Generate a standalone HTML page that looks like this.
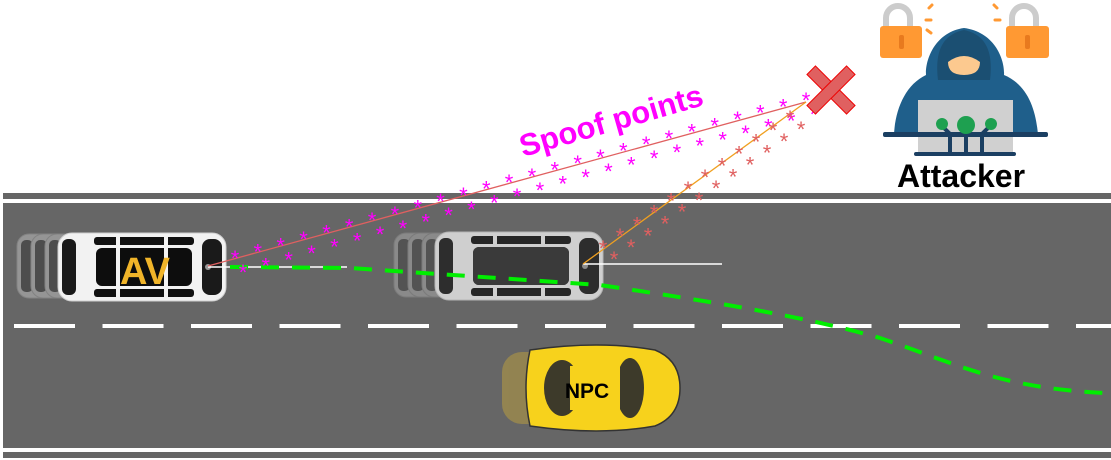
<!DOCTYPE html>
<html><head><meta charset="utf-8"><style>
html,body{margin:0;padding:0;background:#fff;}
svg{display:block;}
text{font-family:"Liberation Sans",sans-serif;}
</style></head><body>
<svg id="s" width="1111" height="460" viewBox="0 0 1111 460" xmlns="http://www.w3.org/2000/svg">
<defs>
<g id="van">
  <rect x="0" y="0" width="168" height="68" rx="14" fill="#f2f2f2" stroke="#cfcfcf"/>
  <rect x="4" y="6" width="14" height="56" rx="6" fill="#1a1a1a"/>
  <rect x="144" y="6" width="20" height="56" rx="8" fill="#1a1a1a"/>
  <rect x="36" y="4" width="100" height="8" rx="3" fill="#111"/>
  <rect x="36" y="56" width="100" height="8" rx="3" fill="#111"/>
  <rect x="38" y="15" width="96" height="38" rx="6" fill="#0d0d0d"/>
  <rect x="58" y="3" width="4" height="62" fill="#f2f2f2"/>
  <rect x="106" y="3" width="4" height="62" fill="#f2f2f2"/>
  <circle cx="150" cy="34" r="3" fill="#999"/>
</g>
<g id="ghost">
  <rect x="0" y="2" width="60" height="64" rx="12" fill="#bdbdbd" stroke="#999"/>
  <rect x="4" y="8" width="12" height="52" rx="5" fill="#3a3a3a"/>
</g>
</defs>
<rect x="3" y="193" width="1108" height="6" fill="#666"/>
<rect x="3" y="203" width="1108" height="245" fill="#666"/>
<rect x="3" y="452" width="1108" height="6" fill="#666"/>
<g fill="#fff" id="dashes"></g>
<g opacity="0.55"><use href="#ghost" x="17" y="232"/><use href="#ghost" x="31" y="232"/><use href="#ghost" x="45" y="232"/></g>
<use href="#van" x="58" y="233"/>
<text x="145" y="284" font-size="38" fill="#f0b429" text-anchor="middle" font-weight="bold">AV</text>
<g opacity="0.75">
<g opacity="0.55"><use href="#ghost" x="394" y="231"/><use href="#ghost" x="408" y="231"/><use href="#ghost" x="422" y="231"/></g>
<use href="#van" x="435" y="232"/>
</g>
<rect x="473" y="247" width="96" height="38" rx="6" fill="#3a3a3a"/>
<g opacity="0.45"><rect x="502" y="352" width="80" height="72" rx="20" fill="#c9a838"/><rect x="512" y="352" width="80" height="72" rx="20" fill="#c9a838"/></g>
<path d="M530 350 Q600 340 655 350 Q680 360 680 388 Q680 416 655 426 Q600 436 530 426 Q522 388 530 350Z" fill="#f7d21c" stroke="#333" stroke-width="1.5"/>
<ellipse cx="562" cy="388" rx="18" ry="28" fill="#3d3a2a"/>
<ellipse cx="630" cy="388" rx="14" ry="30" fill="#3d3a2a"/>
<rect x="570" y="366" width="50" height="44" fill="#f7d21c"/>
<text x="587" y="398" font-size="21" font-weight="bold" text-anchor="middle" fill="#000">NPC</text>
<line x1="208" y1="267" x2="347" y2="267" stroke="#fff" stroke-width="1.5"/>
<line x1="583" y1="264" x2="722" y2="264" stroke="#fff" stroke-width="1.5"/>
<path d="M230 267 L350 268 L600 285 C700 300 800 315 880 338 C960 365 1000 388 1105 393" fill="none" stroke="#00ee00" stroke-width="4" stroke-dasharray="18 13"/>
<line x1="208" y1="266" x2="806" y2="102" stroke="#e06060" stroke-width="1.3"/>
<line x1="583" y1="264" x2="806" y2="102" stroke="#f0a020" stroke-width="1.3"/>
<g id="stars" font-size="22" text-anchor="middle"></g>
<g transform="translate(831,90) rotate(45)">
<rect x="-28" y="-6" width="56" height="12" fill="#e06060" stroke="#e00" stroke-width="1"/>
<rect x="-6" y="-28" width="12" height="56" fill="#e06060" stroke="#e00" stroke-width="1"/>
</g>
<text transform="translate(523,157) rotate(-16)" font-size="31" font-weight="bold" fill="#ff00ff">Spoof points</text>
<path d="M886 28 V18 A12 12 0 0 1 910 18 V28" fill="none" stroke="#ccc" stroke-width="6"/>
<rect x="880" y="26" width="42" height="32" rx="3" fill="#ff9933"/>
<rect x="899" y="35" width="5" height="14" rx="2" fill="#e87a1e"/>
<path d="M1012 28 V18 A12 12 0 0 1 1036 18 V28" fill="none" stroke="#ccc" stroke-width="6"/>
<rect x="1006" y="26" width="43" height="32" rx="3" fill="#ff9933"/>
<rect x="1025" y="35" width="5" height="14" rx="2" fill="#e87a1e"/>
<g stroke="#ff9933" stroke-width="3" stroke-linecap="round"><line x1="929" y1="8" x2="932" y2="5"/><line x1="926" y1="20" x2="931" y2="20"/><line x1="927" y1="30" x2="931" y2="33"/><line x1="997" y1="8" x2="994" y2="5"/><line x1="995" y1="20" x2="1000" y2="20"/></g>
<path d="M964 28 C935 32 925 60 926 75 C905 85 895 110 894 135 L1038 135 C1036 110 1028 85 1004 75 C1005 60 995 32 964 28Z" fill="#1f5f8b"/>
<path d="M964 30 C940 35 935 55 938 80 L990 80 C993 55 988 35 964 30Z" fill="#1b4f72"/>
<path d="M948 62 Q964 50 980 62 Q980 75 964 75 Q948 75 948 62Z" fill="#fcc98f"/>
<rect x="918" y="100" width="95" height="55" fill="#d0d0d0"/>
<rect x="883" y="132" width="165" height="5" rx="2" fill="#1b3f62"/>
<rect x="914" y="152" width="102" height="4" rx="2" fill="#1b3f62"/>
<g stroke="#1b3f62" stroke-width="4" fill="none"><path d="M944 128 L950 134 V152"/><path d="M966 128 V152"/><path d="M988 128 L982 134 V152"/></g>
<circle cx="942" cy="124" r="6" fill="#1ea050"/><circle cx="966" cy="125" r="9" fill="#1ea050"/><circle cx="991" cy="124" r="6" fill="#1ea050"/>
<text x="961" y="187" font-size="32" font-weight="bold" text-anchor="middle" fill="#000">Attacker</text>
<script>
var d=document.getElementById('dashes');
for(var x=14;x<1111;x+=88.5){var r=document.createElementNS('http://www.w3.org/2000/svg','rect');r.setAttribute('x',x);r.setAttribute('y',324);r.setAttribute('width',61);r.setAttribute('height',4);d.appendChild(r);}
var st=document.getElementById('stars');
function star(x,y,c){var t=document.createElementNS('http://www.w3.org/2000/svg','text');t.setAttribute('x',x);t.setAttribute('y',y+10);t.setAttribute('fill',c);t.textContent='*';st.appendChild(t);}
for(var i=0;i<26;i++){var f=i/25;var x=235+f*(806-235),y=258-f*(258-100);star(x,y-2,'#ff00ff');star(x+8,y+12,'#ff00ff');}
for(var i=0;i<12;i++){var f=i/11;var x=603+f*(790-603),y=248-f*(248-118);star(x,y-2,'#e06060');star(x+11,y+9,'#e06060');}
</script>
</svg>
</body></html>
